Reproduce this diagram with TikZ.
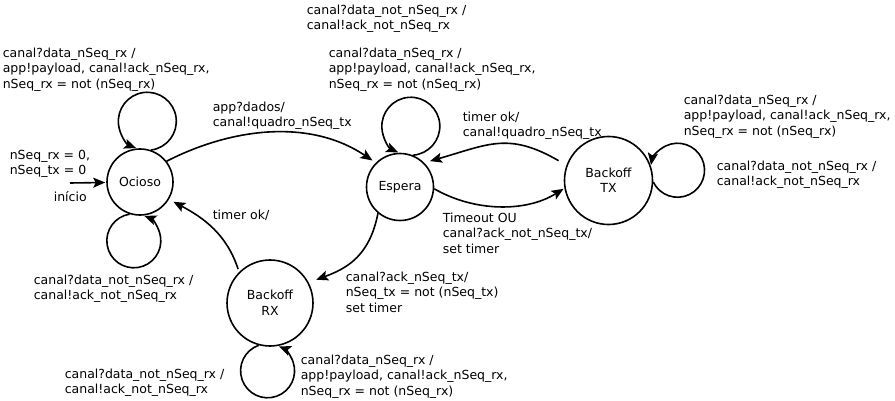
\documentclass[tikz,border=0pt]{standalone}
\usepackage{fontspec}
\setmainfont{DejaVu Sans}
\usetikzlibrary{arrows.meta, positioning, automata}

\tikzset{
	every state/.style={draw, line width=1.6pt, inner sep=0pt},
	circloop/.style n args={4}{to path={(\tikztostart.#1) arc[start angle=#2, end angle=#3, radius=#4]}},
	lbl/.style={anchor=north west, align=left, inner sep=0pt},
}

\begin{document}
\begin{tikzpicture}[x=1pt,y=1pt,>={Stealth[length=12pt,width=10pt,inset=2.5pt]},line width=1.6pt,shorten >=1pt,on grid,font=\fontsize{12.5}{15.5}\selectfont]
			\useasboundingbox (0,0) rectangle (895,-401);
			\node[state, minimum size=66pt] (oc) at (140,-182) {Ocioso};
			\node[state, minimum size=67pt] (es) [below right=5pt and 260pt of oc] {Espera};
			\node[state, minimum size=88pt, align=center] (btx) [above right=6.5pt and 208.5pt of es] {Backoff\\TX};
			\node[state, minimum size=86pt, align=center] (brx) [below right=121pt and 130pt of oc] {Backoff\\RX};
			\coordinate (ini) at (70,-183);
			\node[lbl] (ocloop1) at (2,-47) {canal?data\_nSeq\_rx /\\app!payload, canal!ack\_nSeq\_rx,\\nSeq\_rx = not (nSeq\_rx)};
			\node[lbl] (initval) at (9,-149) {nSeq\_rx = 0,\\nSeq\_tx = 0};
			\node[lbl] (initxt) at (53,-191) {início};
			\node[lbl] (ocloop2) at (33,-274) {canal?data\_not\_nSeq\_rx /\\canal!ack\_not\_nSeq\_rx};
			\node[lbl] (oces) at (212,-101) {app?dados/\\canal!quadro\_nSeq\_tx};
			\node[lbl] (esloop2) at (306,-4) {canal?data\_not\_nSeq\_rx /\\canal!ack\_not\_nSeq\_rx};
			\node[lbl] (esloop1) at (328,-47) {canal?data\_nSeq\_rx /\\app!payload, canal!ack\_nSeq\_rx,\\nSeq\_rx = not (nSeq\_rx)};
			\node[lbl] (btxes) at (462,-111) {timer ok/\\canal!quadro\_nSeq\_tx};
			\node[lbl] (esbtx) at (442,-212) {Timeout OU\\canal?ack\_not\_nSeq\_tx/\\set timer};
			\node[lbl] (btxloop1) at (683,-94) {canal?data\_nSeq\_rx /\\app!payload, canal!ack\_nSeq\_rx,\\nSeq\_rx = not (nSeq\_rx)};
			\node[lbl] (btxloop2) at (716,-160) {canal?data\_not\_nSeq\_rx /\\canal!ack\_not\_nSeq\_rx};
			\node[lbl] (brxoc) at (212,-209) {timer ok/};
			\node[lbl] (esbrx) at (345,-271) {canal?ack\_nSeq\_tx/\\nSeq\_tx = not (nSeq\_tx)\\set timer};
			\node[lbl] (brxloop1) at (300,-354) {canal?data\_nSeq\_rx /\\app!payload, canal!ack\_nSeq\_rx,\\nSeq\_rx = not (nSeq\_rx)};
			\node[lbl] (brxloop2) at (64,-368) {canal?data\_not\_nSeq\_rx /\\canal!ack\_not\_nSeq\_rx};
			\path[->]
				(ini) edge (oc)
				(oc) edge [circloop={71}{-82.7}{249.3}{29pt}] (oc)
				(oc) edge [circloop={252}{99.1}{429.1}{27pt}] (oc)
				(es) edge [circloop={68}{-86}{246}{29pt}] (es)
				(btx) edge [circloop={-2}{206}{531}{27pt}] (btx)
				(brx) edge [circloop={255}{109.3}{427.3}{27pt}] (brx)
				(oc.38) edge [out=27, in=146, looseness=0.94, shorten >=4pt] (es.135)
				(es.-3) edge [out=-30, in=212, looseness=0.9] (btx.190)
				(btx.160) edge [out=150, in=16, looseness=1.2, shorten <=9pt, shorten >=6pt] (es.45)
				(brx.135) edge [out=108, in=-28, shorten <=3pt, shorten >=5pt] (oc.-31)
				(es.230) edge [out=-101, in=20, looseness=1.1, shorten >=8pt] (brx.28);
		\end{tikzpicture}
\end{document}
